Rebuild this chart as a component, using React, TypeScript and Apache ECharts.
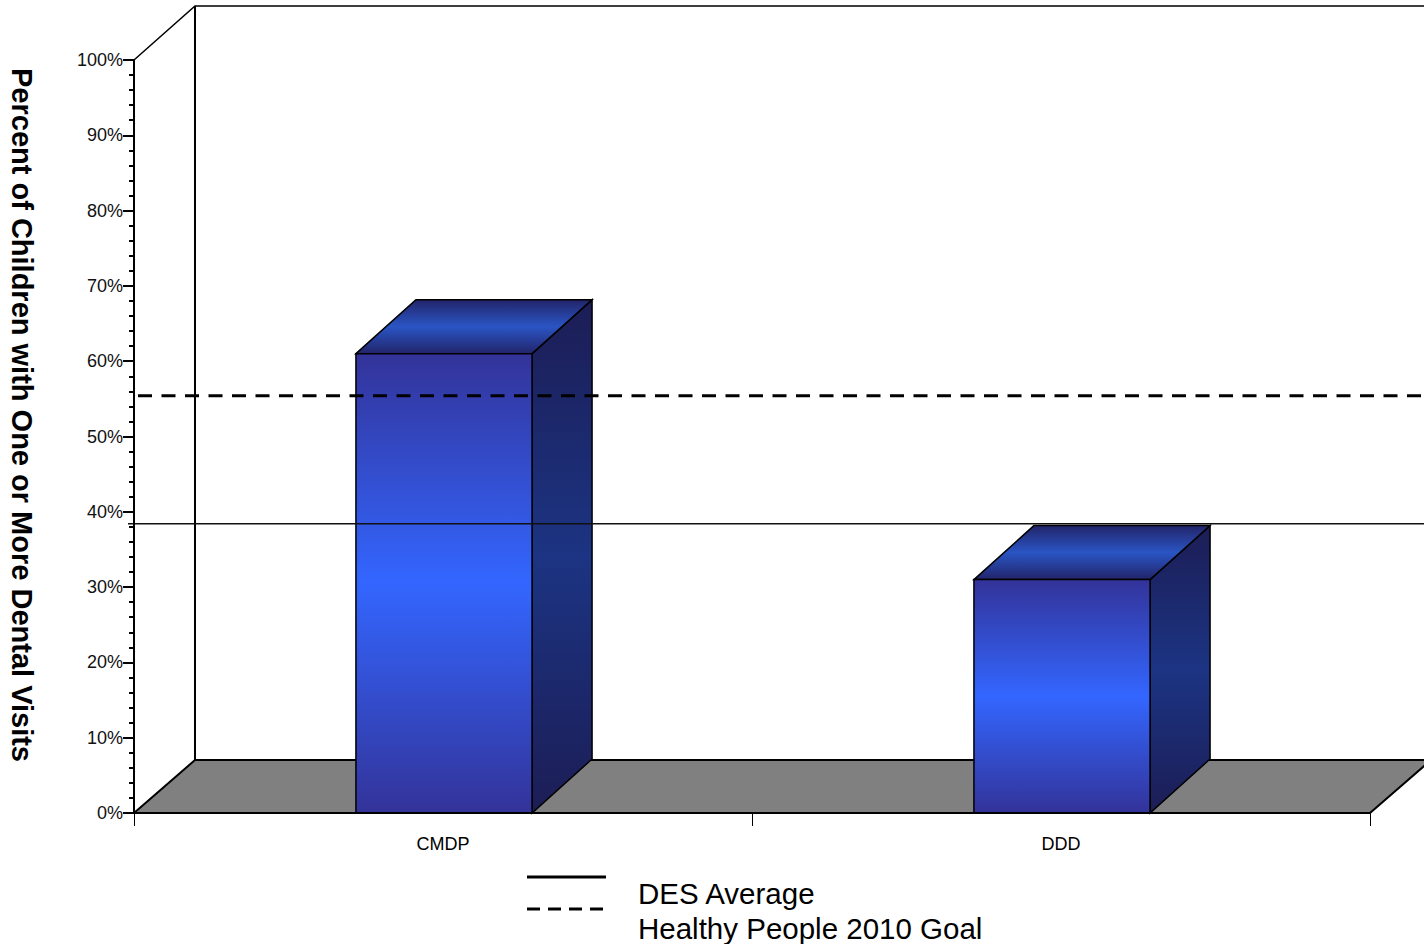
import React, { useEffect, useRef } from "react";
import * as echarts from "echarts";

const categories = ["CMDP", "DDD"];
const visitRates = [61, 31];
const desAverage = [38.4];
const healthyPeopleGoal = [55.4];

const DX = 60;
const DY = -54;
const FONT = "Arial, 'Liberation Sans', Helvetica, sans-serif";

export default function App() {
  const ref = useRef<HTMLDivElement>(null);
  useEffect(() => {
    if (!ref.current) return;
    const chart = echarts.init(ref.current, undefined, { renderer: "svg" });

    const frontGrad = () =>
      new echarts.graphic.LinearGradient(0, 0, 0, 1, [
        { offset: 0, color: "#333399" },
        { offset: 0.5, color: "#3366ff" },
        { offset: 1, color: "#333399" },
      ]);
    const sideGrad = () =>
      new echarts.graphic.LinearGradient(0, 0, 0, 1, [
        { offset: 0, color: "#1c1d55" },
        { offset: 0.5, color: "#1c3483" },
        { offset: 1, color: "#1c1d55" },
      ]);
    const topGrad = () =>
      new echarts.graphic.LinearGradient(0, 0, 0, 1, [
        { offset: 0, color: "#22246a" },
        { offset: 0.5, color: "#2a55c4" },
        { offset: 1, color: "#22246a" },
      ]);

    const option: any = {
      animation: false,
      backgroundColor: "#ffffff",
      grid: { left: 134, right: 54, top: 60, bottom: 131, containLabel: false },
      xAxis: {
        type: "category",
        data: categories,
        boundaryGap: true,
        z: 6,
        axisLine: { show: true, lineStyle: { color: "#000", width: 2 } },
        axisTick: { show: true, length: 13, lineStyle: { color: "#000", width: 1 } },
        axisLabel: { color: "#000", fontSize: 18, fontFamily: FONT, margin: 22 },
      },
      yAxis: {
        type: "value",
        min: 0,
        max: 100,
        interval: 10,
        z: 6,
        axisLine: { show: true, lineStyle: { color: "#000", width: 2 } },
        axisTick: { show: true, length: 11, lineStyle: { color: "#000", width: 2 } },
        minorTick: { show: true, splitNumber: 5, length: 5, lineStyle: { color: "#000", width: 2 } },
        splitLine: { show: false },
        axisLabel: {
          formatter: "{value}%",
          color: "#111",
          fontSize: 18,
          fontFamily: FONT,
          margin: 11,
        },
      },
      graphic: [
        {
          type: "text",
          x: 22,
          y: 415,
          rotation: -Math.PI / 2,
          style: {
            text: "Percent of Children with One or More Dental Visits",
            fontSize: 29,
            fontWeight: "bold",
            fontFamily: FONT,
            fill: "#000",
            align: "center",
            verticalAlign: "middle",
          },
        },
        {
          type: "line",
          shape: { x1: 527, y1: 877, x2: 606, y2: 877 },
          style: { stroke: "#000", lineWidth: 3 },
        },
        {
          type: "line",
          shape: { x1: 527, y1: 909, x2: 606, y2: 909 },
          style: { stroke: "#000", lineWidth: 3, lineDash: [13, 8] },
        },
        {
          type: "text",
          x: 638,
          y: 893,
          style: {
            text: "DES Average",
            fontSize: 29.5,
            fontFamily: FONT,
            fill: "#000",
            align: "left",
            verticalAlign: "middle",
          },
        },
        {
          type: "text",
          x: 638,
          y: 928,
          style: {
            text: "Healthy People 2010 Goal",
            fontSize: 29.5,
            fontFamily: FONT,
            fill: "#000",
            align: "left",
            verticalAlign: "middle",
          },
        },
      ],
      series: [
        {
          name: "Walls",
          type: "custom",
          z: 1,
          data: [0],
          silent: true,
          renderItem: (params: any, api: any) => {
            const cs = params.coordSys;
            const x0 = cs.x;
            const y0 = cs.y + cs.height;
            const yt = cs.y;
            const xr = cs.x + cs.width;
            return {
              type: "group",
              children: [
                {
                  type: "polygon",
                  shape: {
                    points: [
                      [x0, y0],
                      [x0 + 61, y0 - 53],
                      [xr + 120, y0 - 53],
                      [xr + 61, y0 - 53],
                      [xr, y0],
                    ],
                  },
                  style: { fill: "#808080", stroke: "#000", lineWidth: 2 },
                },
                {
                  type: "polyline",
                  shape: {
                    points: [
                      [x0, yt],
                      [x0 + 61, yt - 54],
                      [xr + 120, yt - 54],
                    ],
                  },
                  style: { fill: "none", stroke: "#000", lineWidth: 1.5 },
                },
                {
                  type: "line",
                  shape: { x1: x0 + 61, y1: yt - 54, x2: x0 + 61, y2: y0 - 53 },
                  style: { stroke: "#000", lineWidth: 2 },
                },
              ],
            };
          },
        },
        {
          name: "Visits",
          type: "custom",
          z: 2,
          data: visitRates.map((v, i) => [i, v]),
          renderItem: (params: any, api: any) => {
            const idx = api.value(0);
            const val = api.value(1);
            const top = api.coord([idx, val]);
            const base = api.coord([idx, 0]);
            const catW = api.size([1, 0])[0];
            const w = catW * 0.285;
            const xl = top[0] - w / 2 + 1;
            const xr = xl + w;
            const yT = top[1];
            const y0 = base[1];
            const edge = { stroke: "#000", lineWidth: 1.5 };
            return {
              type: "group",
              children: [
                {
                  type: "polygon",
                  shape: {
                    points: [
                      [xr, yT],
                      [xr + DX, yT + DY],
                      [xr + DX, y0 + DY],
                      [xr, y0],
                    ],
                  },
                  style: { fill: sideGrad(), ...edge },
                },
                {
                  type: "polygon",
                  shape: {
                    points: [
                      [xl, yT],
                      [xl + DX, yT + DY],
                      [xr + DX, yT + DY],
                      [xr, yT],
                    ],
                  },
                  style: { fill: topGrad(), ...edge },
                },
                {
                  type: "rect",
                  shape: { x: xl, y: yT, width: w, height: y0 - yT },
                  style: { fill: frontGrad(), ...edge },
                },
              ],
            };
          },
        },
        {
          name: "DES Average",
          type: "custom",
          z: 3,
          data: desAverage.map((v) => [0, v]),
          renderItem: (params: any, api: any) => {
            const cs = params.coordSys;
            const y = api.coord([0, api.value(1)])[1];
            return {
              type: "line",
              shape: { x1: cs.x - 6, y1: y, x2: cs.x + cs.width + 120, y2: y },
              style: { stroke: "#111", lineWidth: 1.5 },
            };
          },
        },
        {
          name: "Healthy People 2010 Goal",
          type: "custom",
          z: 3,
          data: healthyPeopleGoal.map((v) => [0, v]),
          renderItem: (params: any, api: any) => {
            const cs = params.coordSys;
            const y = api.coord([0, api.value(1)])[1];
            return {
              type: "line",
              shape: { x1: cs.x + 4, y1: y, x2: cs.x + cs.width + 120, y2: y },
              style: { stroke: "#000", lineWidth: 3, lineDash: [14, 9.5] },
            };
          },
        },
      ],
    };

    chart.setOption(option);
    return () => chart.dispose();
  }, []);

  return (
    <div
      ref={ref}
      style={{ width: 1424, height: 944, position: "fixed", left: 0, top: 0 }}
    />
  );
}
